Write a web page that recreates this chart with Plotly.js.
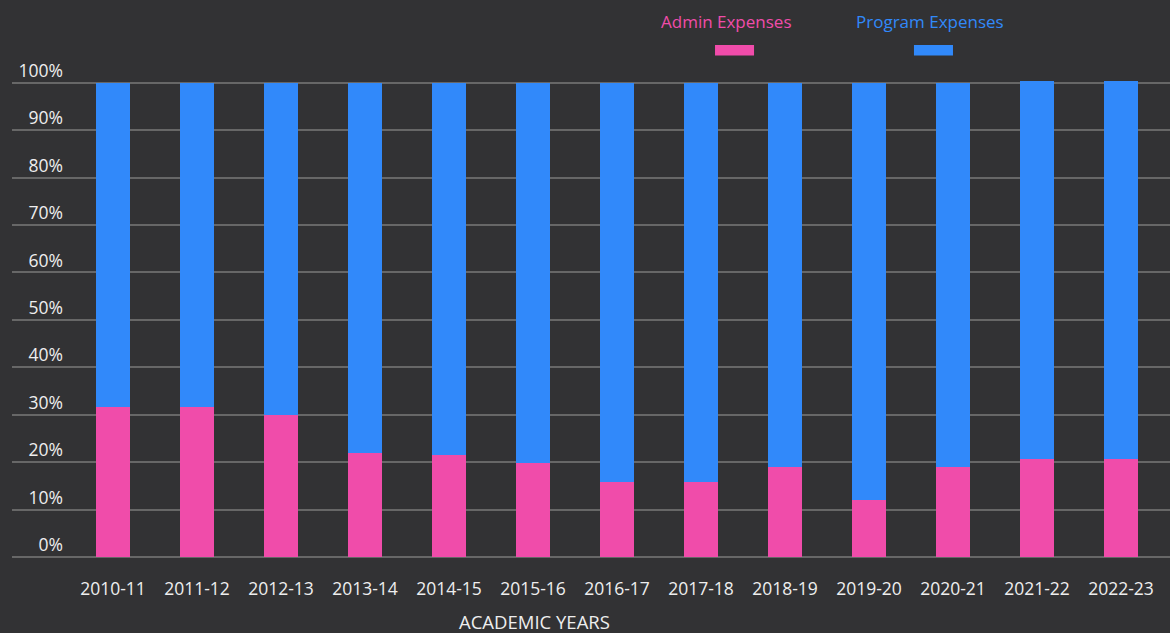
<!DOCTYPE html>
<html>
<head>
<meta charset="utf-8">
<script src="https://cdn.plot.ly/plotly-3.0.1.min.js"></script>
<style>html,body{margin:0;padding:0;background:#323234;}#chart{width:1170px;height:633px;}</style>
</head>
<body>
<div id="chart"></div>
<script>
const years = ["2010-11","2011-12","2012-13","2013-14","2014-15","2015-16","2016-17","2017-18","2018-19","2019-20","2020-21","2021-22","2022-23"];
const adminExpenses = [31.6, 31.6, 29.9, 21.9, 21.5, 19.8, 15.8, 15.8, 18.9, 12.0, 18.9, 20.6, 20.6];
const programExpenses = [68.4, 68.4, 70.1, 78.1, 78.5, 80.2, 84.2, 84.2, 81.1, 88.0, 81.1, 79.8, 79.8];
const seriesNames = ["Admin Expenses", "Program Expenses"];
const seriesColors = ["#F04CAA", "#3189FA"];
const yTicks = [0,10,20,30,40,50,60,70,80,90,100];
const xTitle = "ACADEMIC YEARS";

const FONT = "Open Sans, sans-serif";
const traces = [
  {type:"bar", x: years, y: adminExpenses, name: seriesNames[0], marker:{color: seriesColors[0]}, hoverinfo:"x+y+name"},
  {type:"bar", x: years, y: programExpenses, name: seriesNames[1], marker:{color: seriesColors[1]}, hoverinfo:"x+y+name"}
];

const layout = {
  width:1170, height:633,
  paper_bgcolor:"#323234", plot_bgcolor:"#323234",
  margin:{l:12, r:0, t:59, b:76},
  barmode:"stack", bargap:0.6,
  showlegend:false,
  font:{family:FONT, color:"#eeeeee", size:16},
  xaxis:{
    type:"category", range:[-1.202, 12.583],
    showgrid:false, zeroline:false, showline:false, ticks:"",
    tickfont:{family:FONT, size:17.5, color:"#eeeeee"},
    ticklabelstandoff:19, fixedrange:true
  },
  yaxis:{
    range:[0,105], tickvals:yTicks, ticktext: yTicks.map(v=>v+"%"),
    showgrid:true, gridcolor:"#676767", gridwidth:2,
    zeroline:true, zerolinecolor:"#676767", zerolinewidth:2,
    showline:false, ticks:"",
    tickfont:{family:FONT, size:17.5, color:"#eeeeee"},
    ticklabelposition:"outside", ticklabelstandoff:-52, ticklabelshift:-12,
    automargin:false, fixedrange:true
  },
  annotations:[
    {xref:"paper", yref:"paper", x:0.617, y:1.076, text:seriesNames[0], showarrow:false, xanchor:"center", yanchor:"middle", font:{family:FONT, size:17, color:seriesColors[0]}},
    {xref:"paper", yref:"paper", x:0.793, y:1.076, text:seriesNames[1], showarrow:false, xanchor:"center", yanchor:"middle", font:{family:FONT, size:17, color:seriesColors[1]}},
    {xref:"paper", yref:"paper", x:0.4508, y:-0.1305, text:xTitle, showarrow:false, xanchor:"center", yanchor:"middle", font:{family:FONT, size:18.5, color:"#eeeeee"}}
  ],
  shapes:[
    {type:"rect", xref:"paper", yref:"paper", x0:0.6071, x1:0.6408, y0:1.007, y1:1.028, fillcolor:seriesColors[0], line:{width:0}},
    {type:"rect", xref:"paper", yref:"paper", x0:0.7789, x1:0.8126, y0:1.007, y1:1.028, fillcolor:seriesColors[1], line:{width:0}}
  ]
};
Plotly.newPlot("chart", traces, layout, {displayModeBar:false, staticPlot:true});
</script>
</body>
</html>
